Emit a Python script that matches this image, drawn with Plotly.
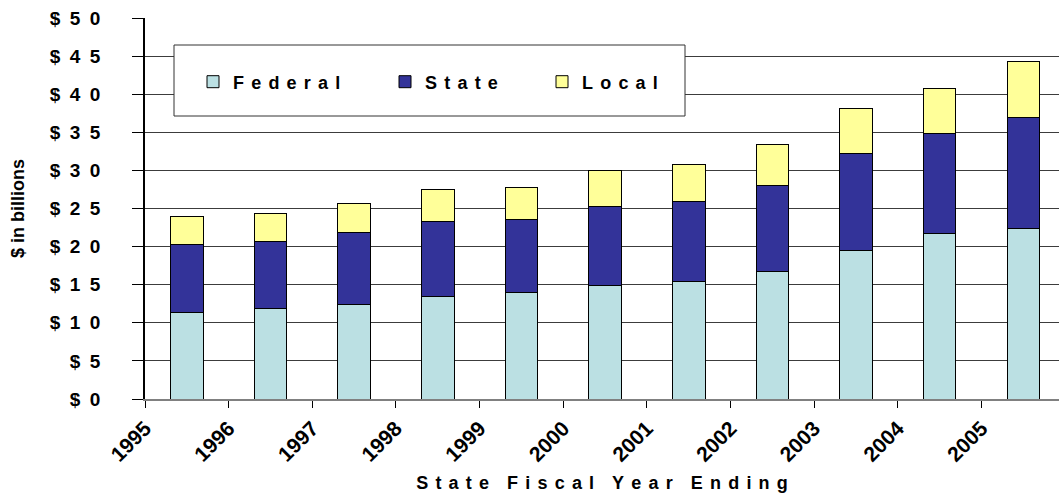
import plotly.graph_objects as go

years = [1995, 1996, 1997, 1998, 1999, 2000, 2001, 2002, 2003, 2004, 2005]
federal = [11.4, 11.9, 12.4, 13.5, 14.0, 14.9, 15.4, 16.7, 19.5, 21.7, 22.4]
state = [8.9, 8.8, 9.4, 9.8, 9.5, 10.4, 10.5, 11.3, 12.7, 13.2, 14.6]
local = [3.7, 3.7, 3.9, 4.2, 4.3, 4.7, 4.9, 5.4, 5.9, 5.8, 7.3]
y_ticks = [0, 5, 10, 15, 20, 25, 30, 35, 40, 45, 50]

FONT = "Arial, Liberation Sans, sans-serif"
GAP = "\u2009\u2009"


def spaced(text, gap=GAP, word_gap="\u2002\u2002"):
    words = text.split(" ")
    return word_gap.join(gap.join(list(w)) for w in words)


def money(v):
    return "$\u2002" + "\u2002".join(list(str(v)))


W, H = 1059, 493
L, R, T, B = 145, 0, 18, 94
pw, ph = W - L - R, H - T - B


def px_x(x):
    return (x - L) / pw


def px_y(y):
    return (H - B - y) / ph


fig = go.Figure()
series = [
    ("Federal", federal, "#BBE0E3", "legend"),
    ("State", state, "#333399", "legend2"),
    ("Local", local, "#FFFF99", "legend3"),
]
for name, vals, color, lg in series:
    fig.add_trace(go.Bar(
        x=years, y=vals, name=spaced(name),
        marker=dict(color=color, line=dict(color="#000000", width=1)),
        width=0.39, offset=0.305, legend=lg, showlegend=True,
    ))

leg_common = dict(
    orientation="h", yanchor="middle", xanchor="left",
    bgcolor="rgba(0,0,0,0)", borderwidth=0,
    font=dict(family=FONT, size=18, color="#000000", weight="bold"),
    visible=True,
)
fig.update_layout(
    width=W, height=H,
    margin=dict(l=L, r=R, t=T, b=B, pad=0, autoexpand=False),
    barmode="stack",
    showlegend=True,
    plot_bgcolor="#FFFFFF", paper_bgcolor="#FFFFFF",
    font=dict(family=FONT, size=18, color="#000000"),
    legend=dict(x=px_x(193), y=px_y(82), **leg_common),
    legend2=dict(x=px_x(385), y=px_y(82), **leg_common),
    legend3=dict(x=px_x(542), y=px_y(82), **leg_common),
    shapes=[dict(
        type="rect", xref="paper", yref="paper", layer="above",
        x0=px_x(174), x1=px_x(685), y0=px_y(116), y1=px_y(45),
        fillcolor="#FFFFFF", line=dict(color="#333333", width=1),
    )],
)
fig.update_xaxes(
    range=[1995, 1995 + pw / 83.65],
    tickvals=years, ticktext=[str(y) for y in years],
    tickangle=-45,
    ticks="outside", ticklen=7, tickcolor="#000000", tickwidth=1,
    showline=True, linecolor="#808080", linewidth=1.5,
    showgrid=False, zeroline=False, automargin=False,
    tickfont=dict(family=FONT, size=21, color="#000000", weight="bold"),
    title=dict(text=spaced("State Fiscal Year Ending"), standoff=12,
               font=dict(family=FONT, size=18, color="#000000", weight="bold")),
)
fig.update_yaxes(
    range=[0, 50],
    tickvals=y_ticks, ticktext=[money(v) for v in y_ticks],
    ticks="outside", ticklen=11, tickcolor="#000000", tickwidth=1,
    ticklabelstandoff=28,
    showline=True, linecolor="#000000", linewidth=1.5,
    showgrid=True, gridcolor="#3c3c3c", gridwidth=1,
    zeroline=False, automargin=False,
    tickfont=dict(family=FONT, size=19, color="#000000", weight="bold"),
    title=dict(text="$ in billions", standoff=20,
               font=dict(family=FONT, size=18, color="#000000", weight="bold")),
)

fig.write_html(
    "out.html",
    config={"displayModeBar": False},
    post_script="document.body.style.margin='0';document.body.style.overflow='hidden';",
)
